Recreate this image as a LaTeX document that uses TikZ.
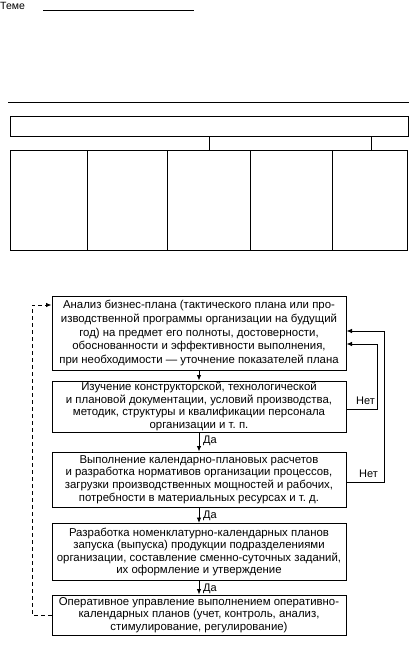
\documentclass[tikz,border=0pt]{standalone}
\usepackage{fontspec}
\setmainfont{Liberation Sans}
\usetikzlibrary{arrows.meta}
\begin{document}
\begin{tikzpicture}[x=1pt,y=-1pt,
  box/.style={draw, line width=1pt, minimum width=294pt, align=center, inner sep=0pt,
    font=\fontsize{11.4}{12.6}\selectfont},
  arr/.style={-{Latex[length=5.5pt,width=4.5pt]}, line width=0.9pt},
  dsh/.style={dash pattern=on 4pt off 3pt},
  lbl/.style={font=\fontsize{11}{12}\selectfont, inner sep=0pt},
  tbl/.style={line width=0.9pt}]
\useasboundingbox (0,0) rectangle (409,646);
% header
\node[anchor=west, inner sep=0pt, font=\fontsize{10.5}{12}\selectfont] (teme) at (0,6) {Теме};
\draw[tbl] (43,10) -- (194,10);
\draw[tbl] (8,102) -- (409,102);
% table
\draw[tbl] (10,116) rectangle (408,136);
\draw[tbl] (209,136) -- (209,150);
\draw[tbl] (371,136) -- (371,150);
\draw[tbl] (10,150) -- (408,150);
\draw[tbl] (10,250) -- (408,250);
\foreach \xx in {10,87,167,250,332,407} \draw[tbl] (\xx,150) -- (\xx,250);
% flowchart boxes
\node[box, minimum height=74pt, font=\fontsize{11.4}{13.6}\selectfont] (b1) at (199,333) {Анализ бизнес-плана (тактического плана или про-\\
изводственной программы организации на будущий\\
год) на предмет его полноты, достоверности,\\
обоснованности и эффективности выполнения,\\
при необходимости — уточнение показателей плана};
\node[box, minimum height=51pt] (b2) at (199,406.5) {Изучение конструкторской, технологической\\
и плановой документации, условий производства,\\
методик, структуры и квалификации персонала\\
организации и т.~п.};
\node[box, minimum height=55pt] (b3) at (199,479.5) {Выполнение календарно-плановых расчетов\\
и разработка нормативов организации процессов,\\
загрузки производственных мощностей и рабочих,\\
потребности в материальных ресурсах и т.~д.};
\node[box, minimum height=57pt] (b4) at (199,552) {Разработка номенклатурно-календарных планов\\
запуска (выпуска) продукции подразделениями\\
организации, составление сменно-суточных заданий,\\
их оформление и утверждение};
\node[box, minimum height=40pt] (b5) at (199,615) {Оперативное управление выполнением оперативно-\\
календарных планов (учет, контроль, анализ,\\
стимулирование, регулирование)};
% down arrows
\draw[arr] (b1) -- (b2);
\draw[arr] (b2) -- (b3);
\draw[arr] (b3) -- (b4);
\draw[arr] (b4) -- (b5);
\node[lbl, anchor=west] (da1) at (203,441) {Да};
\node[lbl, anchor=west] (da2) at (203,515.5) {Да};
\node[lbl, anchor=west] (da3) at (203,588.5) {Да};
% Net loops
\coordinate (n1) at (377,409);
\coordinate (n1t) at (377,344);
\draw[arr] (b2.east |- n1) -- (n1) -- (n1t) -- (b1.east |- n1t);
\node[lbl, anchor=east] (net1) at (375,401) {Нет};
\coordinate (n2) at (384,482);
\coordinate (n2t) at (384,331);
\draw[arr] (b3.east |- n2) -- (n2) -- (n2t) -- (b1.east |- n2t);
\node[lbl, anchor=east] (net2) at (378,474) {Нет};
% dashed feedback
\coordinate (d1) at (32,615);
\coordinate (d2) at (32,305);
\draw[arr, dsh] (b5.west) -- (d1) -- (d2) -- (b1.west |- d2);
\end{tikzpicture}
\end{document}
